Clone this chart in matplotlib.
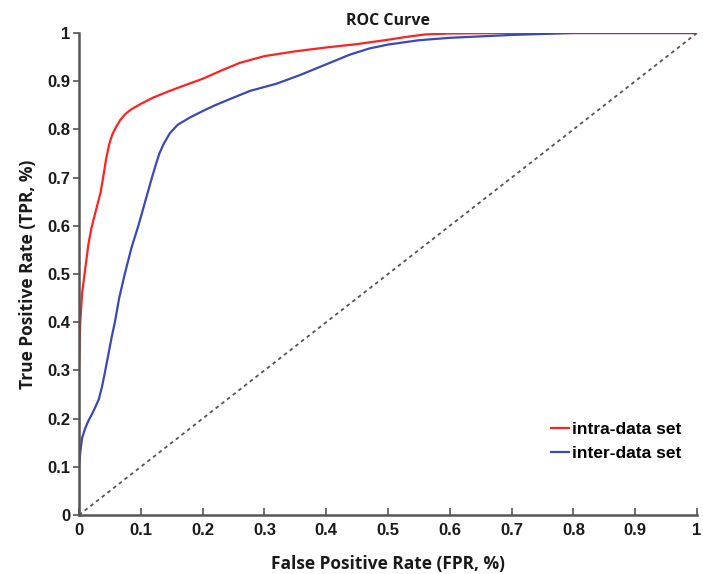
import matplotlib
matplotlib.use("Agg")
import matplotlib.pyplot as plt

# curva intra-data set
intra_fpr = [0.0, 0.0, 0.0, 0.002, 0.005, 0.008, 0.011, 0.015, 0.02, 0.025, 0.03, 0.035,
             0.039, 0.044, 0.049, 0.054, 0.06, 0.067, 0.075, 0.085, 0.1, 0.12, 0.145, 0.17,
             0.2, 0.23, 0.26, 0.3, 0.35, 0.4, 0.45, 0.5, 0.53, 0.56, 0.6, 0.7, 0.8, 1.0]
intra_tpr = [0.0, 0.13, 0.30, 0.40, 0.46, 0.49, 0.52, 0.56, 0.595, 0.62, 0.645, 0.67,
             0.70, 0.74, 0.77, 0.79, 0.805, 0.82, 0.832, 0.842, 0.853, 0.866, 0.879, 0.891,
             0.905, 0.922, 0.938, 0.952, 0.962, 0.97, 0.977, 0.986, 0.992, 0.997, 0.999,
             1.0, 1.0, 1.0]

# curva inter-data set
inter_fpr = [0.0, 0.0, 0.002, 0.005, 0.01, 0.015, 0.02, 0.025, 0.032, 0.037, 0.041, 0.047,
             0.053, 0.058, 0.065, 0.074, 0.085, 0.096, 0.107, 0.118, 0.125, 0.13, 0.137,
             0.147, 0.16, 0.18, 0.2, 0.22, 0.25, 0.277, 0.32, 0.358, 0.4, 0.438, 0.47,
             0.5, 0.55, 0.6, 0.7, 0.8, 1.0]
inter_tpr = [0.0, 0.10, 0.13, 0.16, 0.18, 0.195, 0.207, 0.22, 0.24, 0.265, 0.29, 0.33,
             0.37, 0.40, 0.45, 0.50, 0.555, 0.60, 0.65, 0.70, 0.73, 0.75, 0.77,
             0.792, 0.81, 0.825, 0.838, 0.85, 0.866, 0.88, 0.895, 0.913, 0.935, 0.955,
             0.968, 0.976, 0.985, 0.99, 0.996, 1.0, 1.0]

xticks = [0, 0.1, 0.2, 0.3, 0.4, 0.5, 0.6, 0.7, 0.8, 0.9, 1]
xticklabels = ["0", "0.1", "0.2", "0.3", "0.4", "0.5", "0.6", "0.7", "0.8", "0.9", "1"]
yticks = xticks
yticklabels = xticklabels

fig = plt.figure(figsize=(7.03, 5.74), dpi=100)
ax = fig.add_axes([0.1124, 0.1028, 0.8791, 0.8397])

ax.plot([0, 1], [0, 1], ls=(0, (2, 2)), color="#555555", lw=1.3)
ax.plot(intra_fpr, intra_tpr, color="#ff2222", lw=1.6, label="intra-data set")
ax.plot(inter_fpr, inter_tpr, color="#3a48b8", lw=1.6, label="inter-data set")

ax.set_xlim(0, 1)
ax.set_ylim(0, 1)
ax.set_xticks(xticks)
ax.set_xticklabels(xticklabels)
ax.set_yticks(yticks)
ax.set_yticklabels(yticklabels)

for s in ["top", "right"]:
    ax.spines[s].set_visible(False)
for s in ["left", "bottom"]:
    ax.spines[s].set_color("#555555")
    ax.spines[s].set_linewidth(1.8)

ax.tick_params(axis="x", direction="in", length=5, width=1.2, color="#555555", pad=6)
ax.tick_params(axis="y", direction="out", length=4, width=1.2, color="#555555", pad=2)
for lab in ax.get_xticklabels() + ax.get_yticklabels():
    lab.set_fontfamily("Liberation Sans")
    lab.set_fontweight("bold")
    lab.set_fontsize(12)
    lab.set_color("#1a1a1a")

ax.set_xlabel("False Positive Rate (FPR, %)", fontfamily="Open Sans", fontweight="bold",
              fontsize=12.5, labelpad=12, color="#1a1a1a")
ax.set_ylabel("True Positive Rate (TPR, %)", fontfamily="Open Sans", fontweight="bold",
              fontsize=12.5, labelpad=8, color="#1a1a1a")
ax.set_title("ROC Curve", fontfamily="Open Sans", fontweight="bold", fontsize=11.5,
             pad=6, color="#1a1a1a")

leg = ax.legend(loc="lower right", bbox_to_anchor=(1.0, 0.08), frameon=False,
                handlelength=1.0, handletextpad=0.2, labelspacing=0.5,
                prop={"family": "Liberation Sans", "weight": "bold", "size": 12.5})

fig.savefig("out.png", dpi=100)
